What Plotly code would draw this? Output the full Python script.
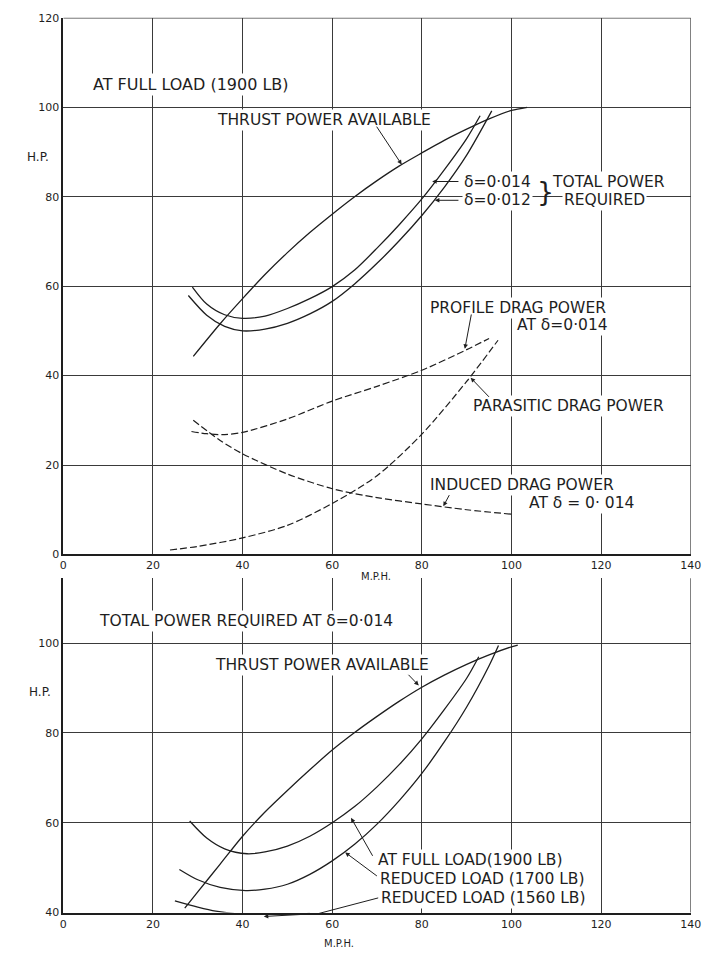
import plotly.graph_objects as go

# ---------------- data ----------------
# Top chart: at full load (1900 lb)
thrust_top_mph = [29, 35, 40, 45, 50, 55, 60, 65, 70, 75, 80, 85, 90, 95, 100, 103.5]
thrust_top_hp = [44.3, 51.6, 57.2, 62.6, 67.5, 72, 76.1, 80, 83.6, 86.9, 89.8, 92.6, 95.1, 97.4, 99.3, 100]

req014_mph = [28.8, 32, 36, 40, 45, 50, 55, 60, 65, 70, 75, 80, 85, 90, 93]
req014_hp = [59.8, 56, 53.6, 52.8, 53.3, 55, 57.2, 59.9, 63.6, 68.5, 73.8, 79.5, 86, 93, 98.1]

req012_mph = [27.9, 32, 36, 40, 45, 50, 55, 60, 65, 70, 75, 80, 85, 90, 95.6]
req012_hp = [57.9, 53.5, 51, 50, 50.4, 51.7, 53.8, 56.6, 60.5, 65.1, 70.2, 75.8, 82.1, 89.3, 99.2]

profile_mph = [28.6, 32, 36, 40, 50, 60, 70, 80, 90, 95]
profile_hp = [27.5, 27.0, 26.8, 27.3, 30.3, 34.3, 37.6, 41.2, 45.8, 48.3]

parasitic_mph = [23.8, 30, 40, 50, 60, 70, 80, 90, 97]
parasitic_hp = [1.0, 1.8, 3.7, 6.5, 11.4, 17.6, 26.9, 38.7, 47.9]

induced_mph = [29, 35, 40, 50, 60, 70, 80, 90, 100]
induced_hp = [30, 25.5, 22.5, 18, 14.7, 12.7, 11.3, 10, 9.0]

# Bottom chart: total power required at delta = 0.014
thrust_bot_mph = [27.1, 30, 35, 40, 45, 50, 55, 60, 65, 70, 75, 80, 85, 90, 95, 100, 101.4]
thrust_bot_hp = [41, 44.6, 50.8, 57, 62.4, 67.2, 71.8, 76.2, 80.1, 83.7, 87.1, 90.2, 92.9, 95.3, 97.4, 99.2, 99.6]

full1900_mph = [28.2, 32, 36, 41, 45, 50, 55, 60, 65, 70, 75, 80, 85, 90, 92.7]
full1900_hp = [60.4, 56.6, 54.2, 53.1, 53.5, 54.8, 57, 60, 63.6, 68, 73, 78.7, 85.2, 92.2, 97]

red1700_mph = [25.9, 30, 35, 40.7, 45, 50, 55, 60, 65, 70, 75, 80, 85, 90, 95, 97.1]
red1700_hp = [49.6, 47.3, 45.6, 44.9, 45.2, 46.3, 48.5, 51.5, 55.2, 59.7, 65, 71, 78, 85.8, 95, 99.5]

red1560_mph = [24.9, 30, 34, 40, 45, 50, 55]
red1560_hp = [42.6, 41.2, 40.3, 39.6, 39.4, 39.5, 39.8]

x_ticks = [0, 20, 40, 60, 80, 100, 120, 140]
y_ticks_top = [0, 20, 40, 60, 80, 100, 120]
y_ticks_bot = [40, 60, 80, 100]

# ---------------- figure ----------------
W, H = 715, 958
INK = "#1e1e1e"
GRID = "#3a3a3a"
FONT = "DejaVu Sans"


def px(x):
    return x / W


def py(y):
    return 1 - y / H


fig = go.Figure()

solid = dict(color=INK, width=1.3, shape="spline", smoothing=0.8)
dashed = dict(color=INK, width=1.2, shape="spline", smoothing=0.8, dash="7px,3px")

for xs, ys, ln in [
    (thrust_top_mph, thrust_top_hp, solid),
    (req014_mph, req014_hp, solid),
    (req012_mph, req012_hp, solid),
    (profile_mph, profile_hp, dashed),
    (parasitic_mph, parasitic_hp, dashed),
    (induced_mph, induced_hp, dashed),
]:
    fig.add_trace(go.Scatter(x=xs, y=ys, mode="lines", line=ln, xaxis="x", yaxis="y",
                             showlegend=False, hoverinfo="skip"))

for xs, ys in [
    (thrust_bot_mph, thrust_bot_hp),
    (full1900_mph, full1900_hp),
    (red1700_mph, red1700_hp),
    (red1560_mph, red1560_hp),
]:
    fig.add_trace(go.Scatter(x=xs, y=ys, mode="lines", line=solid, xaxis="x2", yaxis="y2",
                             showlegend=False, hoverinfo="skip"))

xdom = [px(61.5), px(701.5)]
axis_common = dict(
    showgrid=True, gridcolor=GRID, gridwidth=1,
    showline=True, linecolor=INK, linewidth=1.6,
    ticks="", zeroline=False,
    tickfont=dict(family=FONT, size=11, color=INK),
)

fig.update_layout(
    width=W, height=H,
    margin=dict(l=0, r=0, t=0, b=0),
    paper_bgcolor="white", plot_bgcolor="white",
    showlegend=False,
    xaxis=dict(domain=xdom, range=[0, 140], tickvals=x_ticks, anchor="y", **axis_common),
    yaxis=dict(domain=[py(556), py(12)], range=[0, 120], tickvals=y_ticks_top, anchor="x",
               **axis_common),
    xaxis2=dict(domain=xdom, range=[0, 140], tickvals=x_ticks, anchor="y2", **axis_common),
    yaxis2=dict(domain=[py(919), py(580)], range=[40, 40 + (919 - 580) / 4.55],
                tickvals=y_ticks_bot, anchor="x2", **axis_common),
)

# right border line of each chart and top border of upper chart
fig.add_shape(type="line", xref="x", yref="y", x0=140, x1=140, y0=0, y1=120,
              line=dict(color=GRID, width=1.2))
fig.add_shape(type="line", xref="x", yref="y", x0=0, x1=140, y0=120, y1=120,
              line=dict(color=GRID, width=1.2))
fig.add_shape(type="line", xref="x2", yref="paper", x0=140, x1=140, y0=py(919), y1=py(580),
              line=dict(color=GRID, width=1.2))

LBL = 15.5


def label(text, x, y, anchor="left", size=LBL, bg="white"):
    fig.add_annotation(text=text, x=px(x), y=py(y), xref="paper", yref="paper",
                       xanchor=anchor, yanchor="middle", showarrow=False,
                       font=dict(family=FONT, size=size, color=INK),
                       bgcolor=bg, borderpad=1)


def leader(xa, ya, xt, yt, xr="x", yr="y", head=2):
    fig.add_annotation(text="", x=xt, y=yt, ax=xa, ay=ya, xref=xr, yref=yr,
                       axref=xr, ayref=yr, showarrow=True, arrowhead=head,
                       arrowsize=0.9, arrowwidth=1, arrowcolor=INK)


# ---- top chart labels ----
label("AT FULL LOAD (1900 LB)", 90, 80, size=16)
label("H.P.", 36, 153, anchor="center", size=12, bg=None)
label("M.P.H.", 380, 578, anchor="center", size=10, bg=None)
label("THRUST POWER AVAILABLE", 216, 116)
leader(69.7, 96.0, 75.5, 87.2)

label("δ=0·014", 468, 178)
label("δ=0·012", 468, 197)
label("}", 543, 188, size=27, bg=None)
label("TOTAL POWER", 558, 178)
label("REQUIRED", 570, 197)
leader(88.5, 83.4, 82.3, 83.4)
leader(88.5, 79.2, 82.9, 79.2)

label("PROFILE DRAG POWER", 433, 306)
label("AT δ=0·014", 522, 323)
leader(91.1, 54.0, 89.6, 46.0)

label("PARASITIC DRAG POWER", 477, 406)
leader(95.3, 34.9, 90.9, 39.5)

label("INDUCED DRAG POWER", 433, 486)
label("AT δ = 0· 014", 534, 504)
leader(86.3, 13.6, 84.8, 10.8)

# ---- bottom chart labels ----
label("TOTAL POWER REQUIRED AT δ=0·014", 96, 623)
label("H.P.", 38, 695, anchor="center", size=12, bg=None)
label("M.P.H.", 343, 950, anchor="center", size=10, bg=None)
label("THRUST POWER AVAILABLE", 214, 668)
leader(76.7, 93.3, 79.3, 90.6, "x2", "y2")

label("AT FULL LOAD(1900 LB)", 380, 866)
label("REDUCED LOAD (1700 LB)", 382, 885)
label("REDUCED LOAD (1560 LB)", 384, 904)
leader(69.2, 52.3, 64.2, 61.1, "x2", "y2")
leader(70.3, 47.9, 62.9, 53.4, "x2", "y2")
# leader of the 1560 lb label: runs just under the axis, so drawn in page units
fig.add_annotation(text="", x=px(322), y=py(920), xref="paper", yref="paper",
                   ax=61, ay=-16, showarrow=True, arrowhead=0, arrowwidth=1, arrowcolor=INK)
fig.add_annotation(text="", x=px(266), y=py(923), xref="paper", yref="paper",
                   ax=56, ay=-3, showarrow=True, arrowhead=2, arrowsize=0.9,
                   arrowwidth=1, arrowcolor=INK)

fig.write_html("out.html")
